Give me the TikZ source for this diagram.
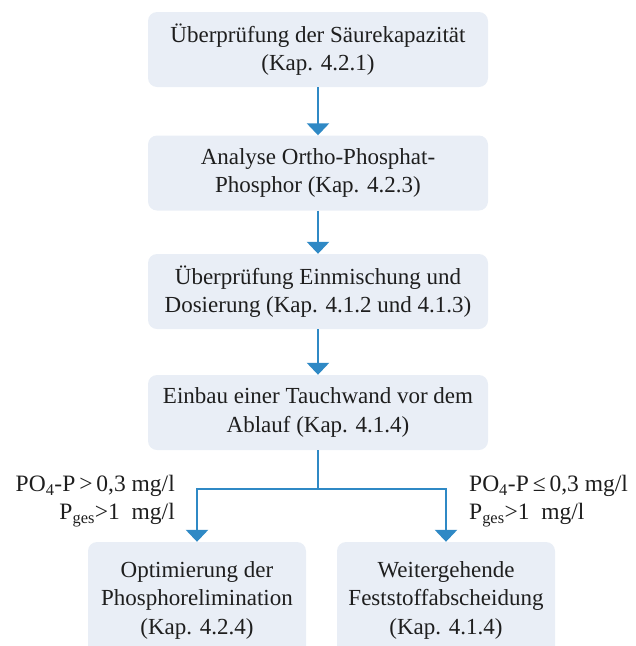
\documentclass[tikz,border=0pt]{standalone}
\usepackage{fontspec}
\setmainfont{Liberation Serif}
\usetikzlibrary{calc, arrows.meta, positioning}
\definecolor{boxfill}{RGB}{233,238,246}
\definecolor{flowblue}{RGB}{47,137,197}
\definecolor{textdark}{RGB}{30,30,30}

\begin{document}
\begin{tikzpicture}[x=1pt, y=1pt, font=\fontsize{23}{28.5}\selectfont, text=textdark]
      % Styles
      \tikzset{stage/.style={fill=boxfill, rounded corners=9pt, minimum width=340pt, minimum height=75pt, align=center, inner sep=2pt}}
      \tikzset{branchbox/.style={stage, minimum width=218pt, minimum height=116pt}}
      \tikzset{flow/.style={draw=flowblue, line width=2.7pt, -{Triangle[width=22pt, length=12pt]}}}
      \tikzset{flowline/.style={draw=flowblue, line width=2.7pt}}
      \tikzset{cond/.style={font=\fontsize{23.5}{28}\selectfont, inner sep=0pt}}

      % Frame of the picture
      \clip (0,0) rectangle (636,-646);

      % --- Main chain of checks ---
      \node[stage] (saeure) at (318,-49.5) {Überprüfung der Säurekapazität\\(Kap. 4.2.1)};
      \node[stage] (ortho) at (318,-173) {Analyse Ortho-Phosphat-\\Phosphor (Kap. 4.2.3)};
      \node[stage] (dosierung) at (318,-291.5) {Überprüfung Einmischung und\\Dosierung (Kap. 4.1.2 und 4.1.3)};
      \node[stage] (tauchwand) at (318,-412.5) {Einbau einer Tauchwand vor dem\\Ablauf (Kap. 4.1.4)};

      % --- The two outcomes ---
      \node[branchbox] (elimination) at (197,-600) {Optimierung der\\Phosphorelimination\\(Kap. 4.2.4)};
      \node[branchbox] (feststoff) at (446,-600) {Weitergehende\\Feststoffabscheidung\\(Kap. 4.1.4)};

      % Conditions beside the branches
      \node[cond, anchor=east, align=right] (condleft) at (175,-501) {PO\textsubscript{4}-P\,>\,0,3 mg/l\\P\textsubscript{ges}>1\ \ mg/l};
      \node[cond, anchor=west, align=left] (condright) at (469,-501) {PO\textsubscript{4}-P\,≤\,0,3 mg/l\\P\textsubscript{ges}>1\ \ mg/l};

      % --- Arrows ---
      \draw[flow] (saeure) -- (ortho);
      \draw[flow] (ortho) -- (dosierung);
      \draw[flow] (dosierung) -- (tauchwand);
      \coordinate (split) at (318,-489);
      \draw[flowline] (tauchwand) -- (split);
      \draw[flow] (split) -| (elimination);
      \draw[flow] (split) -| (feststoff);
\end{tikzpicture}
\end{document}
